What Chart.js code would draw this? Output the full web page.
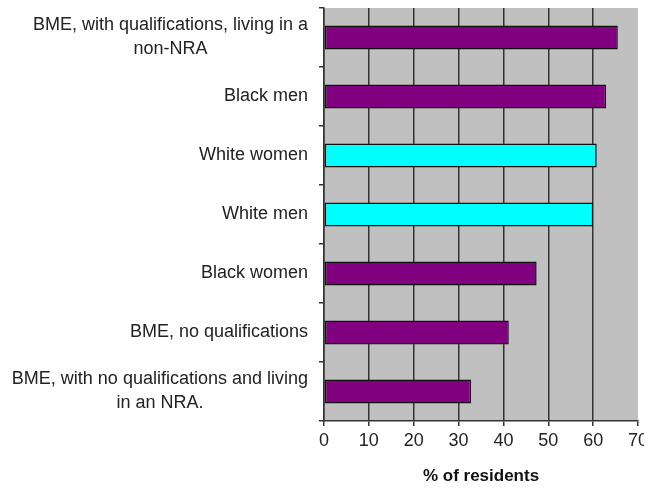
<!DOCTYPE html>
<html><head><meta charset="utf-8">
<script src="https://cdn.jsdelivr.net/npm/chart.js@4"></script>
<style>
html,body{margin:0;padding:0;background:#fff;}
#wrap{width:644px;height:488px;overflow:hidden;}
</style></head><body>
<div id="wrap"><canvas id="c" width="660" height="488"></canvas></div>
<script>
const categories = [
  ['BME, with qualifications, living in a', 'non-NRA'],
  ['Black men'],
  ['White women'],
  ['White men'],
  ['Black women'],
  ['BME, no qualifications'],
  ['BME, with no qualifications and living', 'in an NRA.']
];
const values = [65.5, 62.9, 60.8, 60.0, 47.4, 41.2, 32.8];
const groups = ['BME', 'BME', 'White', 'White', 'BME', 'BME', 'BME'];
const xTicks = [0, 10, 20, 30, 40, 50, 60, 70];
const xTitle = '% of residents';

const groupColor = { BME: '#800080', White: '#00ffff' };
const FONT = '"Liberation Sans", Arial, sans-serif';

const plotBg = {
  id: 'plotBg',
  beforeDraw(chart) {
    const { ctx, chartArea: a } = chart;
    ctx.save();
    ctx.fillStyle = '#c0c0c0';
    ctx.fillRect(a.left, a.top, a.right - a.left, a.bottom - a.top);
    ctx.restore();
  }
};

const catLabels = {
  id: 'catLabels',
  afterDraw(chart) {
    const ctx = chart.ctx, ys = chart.scales.y;
    const right = chart.chartArea.left - 16;
    ctx.save();
    ctx.font = '18px ' + FONT;
    ctx.fillStyle = '#222';
    ctx.textAlign = 'center';
    ctx.textBaseline = 'middle';
    const lh = 24;
    categories.forEach((lines, i) => {
      const cy = ys.getPixelForValue(i);
      const w = Math.max(...lines.map(l => ctx.measureText(l).width));
      const cx = right - w / 2;
      lines.forEach((l, j) => ctx.fillText(l, cx, cy + (j - (lines.length - 1) / 2) * lh));
    });
    ctx.restore();
  }
};

new Chart(document.getElementById('c'), {
  type: 'bar',
  data: {
    labels: categories,
    datasets: [{
      data: values,
      backgroundColor: groups.map(g => groupColor[g]),
      borderColor: '#111',
      borderWidth: 1.5,
      borderSkipped: false,
      barPercentage: 0.41,
      categoryPercentage: 1
    }]
  },
  options: {
    indexAxis: 'y',
    responsive: false,
    animation: false,
    layout: { padding: { top: 8, right: 22, left: 0, bottom: 0 } },
    plugins: { legend: { display: false }, tooltip: { enabled: false } },
    scales: {
      x: {
        min: 0, max: 70,
        afterBuildTicks: s => { s.ticks = xTicks.map(v => ({ value: v })); },
        afterFit: s => { s.height = 67; },
        grid: {
          color: c => (c.tick && c.tick.value === 70) ? 'rgba(0,0,0,0)' : '#333',
          tickColor: '#333',
          lineWidth: 1.5,
          tickLength: 5
        },
        border: { color: '#333', width: 1.5 },
        ticks: { color: '#222', font: { family: FONT, size: 18 }, padding: 4, maxRotation: 0 },
        title: { display: true, text: xTitle, color: '#111', font: { family: FONT, size: 17, weight: 'bold' }, padding: { top: 4, bottom: 1 } }
      },
      y: {
        afterFit: s => { s.width = 324; },
        grid: { drawOnChartArea: false, color: '#333', tickColor: '#333', tickLength: 5, offset: true, lineWidth: 1.5 },
        border: { color: '#333', width: 1.5 },
        ticks: { display: false }
      }
    }
  },
  plugins: [plotBg, catLabels]
});
</script>
</body></html>
